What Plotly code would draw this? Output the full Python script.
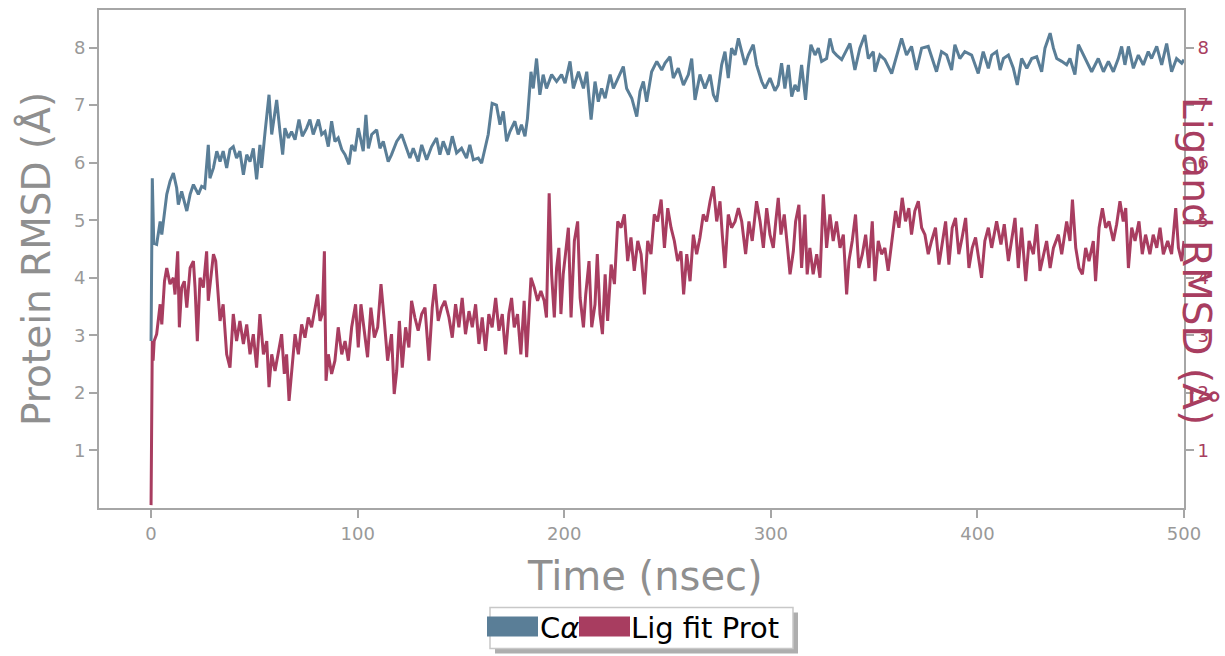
import plotly.graph_objects as go

# ---------------- data ----------------
t_ca = [0, 0.6, 1.3, 2.7, 4.4, 5.2, 7.6, 9.2, 10.8, 12.4, 13.2, 14.8, 17.3, 18.9, 20.5, 22.9, 24.5, 26.0, 27.7, 28.5,
        30.2, 31.8, 33.4, 34.9, 36.6, 38.2, 39.8, 41.4, 43.0, 44.7, 46.3, 47.9, 49.5, 51.1, 52.7, 53.5, 55.2, 57.1, 58.4,
        60.8, 62.4, 63.7, 64.8, 66.5, 68.0, 69.7, 71.6, 73.2, 75.3, 76.9, 78.5, 81.0, 82.6, 84.2, 85.8, 87.4, 89.0, 90.6,
        92.3, 93.9, 95.8, 97.1, 98.7, 100.3, 102.7, 104.0, 105.2, 106.8, 109.2, 110.8, 112.4, 114.8, 116.4, 118.9, 121.3,
        122.9, 125.3, 126.9, 129.3, 131.0, 133.4, 135.8, 138.2, 139.8, 141.4, 143.9, 145.8, 147.9, 150.3, 152.7, 154.3,
        156.0, 158.4, 160.0, 161.6, 163.2, 165.1, 167.2, 168.9, 170.5, 172.1, 173.7, 176.1, 177.7, 179.3, 181.0, 182.2,
        183.9, 185.0, 186.6, 188.2, 189.8, 191.4, 193.9, 196.3, 198.7, 200.4, 202.8, 204.4, 206.9, 209.3, 210.9, 213.0,
        214.9, 216.5, 218.1, 219.8, 222.2, 223.8, 226.2, 228.6, 230.2, 232.7, 235.1, 236.7, 238.3, 239.9, 242.3, 244.8,
        247.2, 248.8, 251.2, 252.8, 255.2, 257.7, 260.1, 261.7, 263.3, 265.7, 268.1, 270.6, 272.2, 273.8, 276.2, 277.8,
        279.4, 281.0, 282.7, 284.3, 285.9, 287.5, 289.1, 291.5, 293.1, 295.6, 297.2, 299.6, 302.0, 303.6, 305.2, 306.8,
        308.5, 310.1, 311.7, 313.3, 314.9, 316.8, 318.1, 319.4, 321.4, 323.0, 324.6, 327.0, 328.6, 330.2, 331.8, 334.3,
        336.7, 338.3, 340.7, 343.1, 345.5, 347.2, 349.6, 350.4, 352.8, 355.2, 358.5, 360.9, 363.3, 365.7, 368.1, 370.5,
        373.0, 376.2, 378.6, 380.2, 382.6, 385.1, 387.5, 389.1, 391.5, 393.9, 397.2, 400.4, 402.8, 405.3, 406.9, 409.3,
        411.0, 412.6, 415.0, 417.4, 419.3, 421.4, 423.9, 426.3, 428.7, 431.1, 432.7, 435.2, 436.8, 438.4, 440.8, 443.2,
        444.8, 447.2, 448.9, 451.3, 453.7, 455.3, 458.5, 461.0, 463.4, 465.8, 468.2, 469.8, 471.4, 473.1, 475.5, 477.9,
        480.3, 482.7, 484.3, 486.8, 489.2, 491.6, 494.0, 496.4, 498.9, 500.0]
rmsd_ca = [2.9, 5.73, 4.6, 4.58, 4.98, 4.75, 5.45, 5.68, 5.82, 5.56, 5.27, 5.5, 5.16, 5.45, 5.62, 5.45, 5.59, 5.56, 6.31, 5.73,
           5.91, 6.2, 6.02, 6.2, 5.91, 6.23, 6.28, 6.08, 6.2, 5.79, 6.14, 6.02, 6.25, 5.71, 6.31, 5.91, 6.54, 7.18, 6.49,
           7.09, 6.54, 6.14, 6.6, 6.43, 6.54, 6.4, 6.75, 6.46, 6.6, 6.75, 6.49, 6.75, 6.49, 6.54, 6.28, 6.72, 6.37, 6.43,
           6.23, 6.14, 5.97, 6.31, 6.2, 6.6, 6.2, 6.83, 6.25, 6.49, 6.57, 6.25, 6.37, 6.02, 6.14, 6.37, 6.49,
           6.31, 6.08, 6.25, 6.02, 6.31, 6.05, 6.28, 6.43, 6.14, 6.37, 6.14, 6.46, 6.17, 6.25, 6.08, 6.31,
           6.05, 6.08, 5.99, 6.25, 6.49, 7.03, 7.0, 6.66, 6.89, 6.37, 6.54, 6.72, 6.49, 6.66, 6.46, 6.77,
           7.58, 7.29, 7.81, 7.18, 7.53, 7.29, 7.53, 7.41, 7.53, 7.38, 7.76, 7.29, 7.58, 7.29, 7.58, 6.75,
           7.41, 7.06, 7.29, 7.12, 7.53, 7.29, 7.47, 7.67, 7.29, 7.12, 6.8, 7.24, 7.41, 7.06, 7.58, 7.76,
           7.61, 7.73, 7.84, 7.47, 7.64, 7.35, 7.53, 7.81, 7.09, 7.53, 7.29, 7.53, 7.18, 7.06, 7.7, 7.93,
           7.47, 7.99, 7.87, 8.16, 7.93, 7.7, 7.87, 8.05, 7.7, 7.41, 7.29, 7.47, 7.25, 7.35, 7.73, 7.29,
           7.7, 7.15, 7.35, 7.24, 7.7, 7.09, 7.64, 8.05, 7.87, 7.99, 7.76, 7.81, 8.16, 7.93, 7.87, 7.79,
           7.96, 8.07, 7.61, 7.99, 8.22, 7.81, 7.93, 7.58, 7.87, 7.79, 7.55, 7.87, 8.16, 7.87, 8.02, 7.61,
           7.99, 8.02, 7.76, 7.58, 7.93, 7.87, 7.61, 8.05, 7.81, 7.93, 7.87, 7.55, 7.93, 7.64, 7.87, 7.93,
           7.61, 7.81, 7.87, 7.64, 7.35, 7.81, 7.64, 7.81, 7.84, 7.58, 7.99, 8.25, 7.99, 7.81, 7.76, 7.7,
           7.81, 7.53, 8.05, 7.87, 7.7, 7.58, 7.81, 7.58, 7.76, 7.58, 7.81, 8.02, 7.7, 8.02, 7.64, 7.87,
           7.7, 7.93, 7.81, 8.02, 7.7, 8.07, 7.58, 7.81, 7.73, 7.79]

t_lig = [0, 0.3, 0.6, 1.0, 1.5, 2.7, 4.4, 5.2, 6.5, 7.6, 9.2, 10.8, 11.6, 12.9, 13.7, 14.8, 16.1, 17.3, 18.9, 20.5,
         21.3, 22.4, 23.7, 25.3, 26.9, 27.7, 29.0, 30.2, 31.3, 32.3, 33.4, 34.9, 36.6, 38.2, 39.8, 41.4, 43.0, 44.7,
         46.3, 47.9, 49.5, 51.1, 52.7, 54.4, 56.0, 57.1, 58.4, 60.0, 61.6, 63.2, 64.5, 65.6, 66.8, 68.0, 69.7, 71.3,
         72.9, 74.5, 76.1, 77.7, 79.4, 80.6, 81.8, 82.9, 83.9, 84.7, 85.8, 87.4, 89.0, 90.6, 92.3, 93.9, 95.5, 97.1,
         99.0, 100.3, 101.6, 103.2, 104.8, 106.4, 108.1, 109.7, 111.3, 112.9, 114.5, 116.4, 117.7, 118.9, 120.2, 121.6,
         123.2, 124.8, 126.1, 127.7, 129.3, 131.0, 132.6, 134.5, 136.1, 137.4, 139.0, 140.6, 142.2, 144.2, 145.8, 147.4,
         149.0, 150.6, 152.2, 153.9, 155.5, 157.1, 158.7, 160.3, 161.9, 163.5, 165.1, 166.8, 168.4, 170.0, 171.6, 173.2,
         174.5, 175.8, 177.4, 179.0, 180.6, 181.8, 182.9, 183.9, 185.5, 187.1, 188.7, 190.3, 191.4, 192.7, 193.9, 195.2,
         196.3, 197.4, 198.4, 199.5, 200.6, 202.0, 203.3, 204.9, 206.5, 207.7, 209.3, 210.4, 212.0, 213.3, 214.9, 216.0,
         217.3, 218.5, 219.8, 221.0, 222.7, 224.3, 225.9, 227.5, 229.1, 230.7, 232.3, 233.9, 235.6, 237.2, 238.8, 240.4,
         242.0, 243.6, 245.2, 246.9, 248.5, 250.1, 251.7, 253.3, 254.9, 256.5, 257.8, 259.3, 260.9, 262.5, 264.1, 265.7,
         267.3, 268.9, 270.6, 272.2, 273.8, 275.4, 276.5, 277.8, 279.4, 281.0, 282.7, 284.3, 285.9, 287.8, 289.4, 291.0,
         293.1, 294.8, 296.4, 298.0, 299.6, 301.2, 302.4, 303.6, 304.9, 306.5, 308.1, 309.3, 310.9, 312.0, 313.6, 314.9,
         316.5, 317.6, 318.9, 320.5, 322.2, 323.8, 325.4, 327.0, 328.6, 330.2, 331.8, 333.5, 335.1, 336.7, 337.8, 339.4,
         341.0, 342.6, 344.3, 345.9, 347.5, 349.1, 350.4, 352.0, 353.6, 355.2, 356.8, 358.5, 360.4, 362.0, 363.6, 365.2,
         366.8, 368.1, 369.7, 371.4, 373.0, 374.6, 376.2, 377.8, 379.7, 381.4, 383.0, 384.6, 386.2, 387.8, 389.4, 391.0,
         392.6, 394.3, 395.9, 397.5, 399.1, 400.7, 402.0, 403.6, 405.3, 406.9, 409.3, 411.4, 413.0, 415.0, 416.6, 418.2,
         419.8, 421.4, 423.4, 425.0, 427.1, 428.7, 430.3, 431.9, 433.5, 435.2, 436.8, 439.2, 440.8, 443.2, 444.8, 446.0,
         447.6, 449.2, 450.8, 452.4, 454.0, 456.1, 457.2, 458.9, 460.5, 462.1, 463.7, 465.8, 467.4, 469.0, 470.6, 471.8,
         473.1, 474.7, 476.3, 478.2, 479.8, 481.4, 483.5, 485.1, 486.8, 488.4, 490.0, 492.1, 494.0, 496.0, 497.3, 498.9,
         500.0]
rmsd_lig = [0.05, 1.5, 2.9, 2.56, 2.9, 3.02, 3.54, 3.19, 3.94, 4.17, 3.89, 4.0, 3.71, 4.46, 3.14, 3.83, 3.94, 3.48, 4.17, 4.29,
            3.83, 2.9, 4.0, 3.83, 4.46, 3.6, 4.06, 4.41, 4.29, 3.83, 3.25, 3.54, 2.67, 2.44, 3.37, 2.9, 3.25, 2.85,
            3.19, 2.67, 3.02, 2.44, 3.37, 2.67, 2.9, 2.1, 2.67, 2.38, 2.67, 3.02, 2.33, 2.67, 1.86, 2.38, 3.02, 2.67,
            3.19, 2.96, 3.31, 3.14, 3.48, 3.71, 3.25, 3.37, 4.46, 2.21, 2.67, 2.33, 2.56, 3.14, 2.67, 2.9, 2.56, 3.14,
            3.54, 2.79, 3.54, 3.02, 2.62, 3.48, 2.96, 3.14, 3.89, 3.25, 2.56, 3.02, 1.98, 2.38, 3.25, 2.44,
            3.14, 2.79, 3.6, 3.31, 3.08, 3.37, 3.48, 2.56, 3.48, 3.89, 3.25, 3.48, 3.6, 3.31, 2.96, 3.54,
            3.14, 3.65, 3.02, 3.42, 3.14, 3.54, 2.85, 3.31, 2.73, 3.37, 3.14, 3.65, 3.08, 3.37, 2.67, 3.37,
            3.65, 3.14, 3.37, 2.67, 3.6, 2.62, 3.37, 4.0, 3.83, 3.6, 3.77, 3.6, 3.31, 5.47, 4.06, 3.31,
            4.17, 4.52, 3.37, 4.06, 4.41, 4.87, 3.31, 4.64, 4.98, 3.65, 3.14, 3.71, 4.29, 3.14, 3.54, 4.41,
            3.37, 3.02, 4.06, 3.25, 4.23, 3.89, 4.98, 4.87, 5.1, 4.29, 4.7, 4.12, 4.64, 4.41, 3.71, 4.64,
            4.41, 5.1, 4.98, 5.36, 4.52, 5.21, 4.87, 4.64, 4.29, 4.46, 3.71, 4.41, 3.94, 4.75, 4.41, 4.7,
            5.1, 4.98, 5.33, 5.59, 4.98, 5.33, 4.75, 4.17, 5.1, 4.87, 4.98, 5.21, 4.98, 4.41, 4.98, 4.64,
            5.33, 4.98, 4.52, 5.21, 4.75, 4.52, 4.98, 5.39, 4.75, 5.1, 4.52, 4.06, 4.46, 4.98, 5.27, 4.17,
            5.1, 4.06, 4.52, 4.06, 4.41, 4.0, 5.45, 4.52, 5.1, 4.64, 4.98, 4.52, 4.75, 3.71, 4.29, 4.64,
            5.1, 4.17, 4.41, 4.75, 4.17, 4.98, 3.94, 4.64, 4.41, 4.52, 4.12, 4.58, 5.16, 4.87, 5.39, 4.98,
            5.21, 4.75, 5.16, 5.33, 4.87, 4.75, 4.41, 4.64, 4.87, 4.23, 4.64, 4.98, 4.23, 4.87, 5.04, 4.41,
            4.7, 5.04, 4.17, 4.52, 4.7, 4.29, 4.0, 4.64, 4.87, 4.52, 4.98, 4.58, 4.93, 4.29, 4.64, 5.04,
            4.17, 4.87, 3.94, 4.64, 4.41, 4.93, 4.12, 4.41, 4.64, 4.17, 4.52, 4.75, 4.41, 4.98, 4.64, 5.36,
            4.52, 4.17, 4.06, 4.52, 4.29, 4.64, 3.94, 4.87, 5.21, 4.87, 4.98, 4.64, 4.93, 5.33, 4.98, 5.21,
            4.17, 4.87, 4.64, 4.98, 4.41, 4.75, 4.41, 4.75, 4.52, 4.87, 4.41, 4.64, 4.41, 5.21, 4.52, 4.29,
            4.64]

x_ticks = [0, 100, 200, 300, 400, 500]
y_ticks = [1, 2, 3, 4, 5, 6, 7, 8]
series_names = ["C\u03b1", "Lig fit Prot"]

# ---------------- style ----------------
BLUE = "#5a7e97"
RED = "#a83d60"
GREY_AX = "#a6a6a6"
GREY_TXT = "#8f8f8f"
FONT = "DejaVu Sans"
W, H = 1225, 656
ML, MR, MT, MB = 99, 41, 8, 148
X_RANGE = [-25.2, 500]
Y_RANGE = [0, 8.653]

fig = go.Figure()
fig.add_trace(go.Scatter(x=t_ca, y=rmsd_ca, mode="lines", name=series_names[0],
                         line=dict(color=BLUE, width=3), showlegend=False))
fig.add_trace(go.Scatter(x=t_lig, y=rmsd_lig, mode="lines", name=series_names[1],
                         line=dict(color=RED, width=3), showlegend=False, yaxis="y2"))

pw = W - ML - MR
ph = H - MT - MB


def px(xp):
    return (xp - ML) / pw


def py(yp):
    return (H - MB - yp) / ph


axis_common = dict(showline=True, linecolor=GREY_AX, linewidth=2, ticks="outside", ticklen=8,
                   tickwidth=1.5, tickcolor=GREY_AX, showgrid=False, zeroline=False)

fig.update_layout(
    width=W, height=H,
    margin=dict(l=ML, r=MR, t=MT, b=MB),
    paper_bgcolor="white", plot_bgcolor="white",
    font=dict(family=FONT, color=GREY_TXT),
    xaxis=dict(range=X_RANGE, tickvals=x_ticks, mirror=True,
               tickfont=dict(family=FONT, size=18, color="#999999"), **axis_common),
    yaxis=dict(range=Y_RANGE, tickvals=y_ticks, mirror=True,
               tickfont=dict(family=FONT, size=18, color="#999999"), **axis_common),
    yaxis2=dict(range=Y_RANGE, tickvals=y_ticks, overlaying="y", side="right",
                tickfont=dict(family=FONT, size=18, color=RED), **axis_common),
)

annotations = [
    dict(text="Time (nsec)", x=px(645), y=py(576), xref="paper", yref="paper", showarrow=False,
         xanchor="center", yanchor="middle", font=dict(family=FONT, size=40, color=GREY_TXT)),
    dict(text="Protein RMSD (\u00c5)", x=px(36), y=py(258), xref="paper", yref="paper", showarrow=False,
         textangle=-90, xanchor="center", yanchor="middle", font=dict(family=FONT, size=39, color=GREY_TXT)),
    dict(text="Ligand RMSD (\u00c5)", x=px(1197), y=py(260), xref="paper", yref="paper", showarrow=False,
         textangle=90, xanchor="center", yanchor="middle", font=dict(family=FONT, size=39, color=RED)),
    dict(text="C<i>\u03b1</i>", x=px(538), y=py(628), xref="paper", yref="paper", showarrow=False,
         xanchor="left", yanchor="middle", font=dict(family=FONT, size=29, color="black")),
    dict(text=series_names[1], x=px(629), y=py(628), xref="paper", yref="paper", showarrow=False,
         xanchor="left", yanchor="middle", font=dict(family=FONT, size=29, color="black")),
]

shapes = [
    # legend shadow
    dict(type="rect", xref="paper", yref="paper", x0=px(495), x1=px(798), y0=py(613), y1=py(654),
         fillcolor="#9a9a9a", line=dict(width=0), layer="above", opacity=0.8),
    # legend box
    dict(type="rect", xref="paper", yref="paper", x0=px(490), x1=px(793), y0=py(608), y1=py(649),
         fillcolor="white", line=dict(color="#c8c8c8", width=1.5), layer="above"),
    # swatches
    dict(type="rect", xref="paper", yref="paper", x0=px(487), x1=px(538), y0=py(617), y1=py(637),
         fillcolor=BLUE, line=dict(width=0), layer="above"),
    dict(type="rect", xref="paper", yref="paper", x0=px(579), x1=px(630), y0=py(617), y1=py(637),
         fillcolor=RED, line=dict(width=0), layer="above"),
]

fig.update_layout(annotations=annotations, shapes=shapes)
fig.write_html("out.html", config={"displayModeBar": False},
               post_script="document.body.style.margin='0';document.body.style.overflow='hidden';")
